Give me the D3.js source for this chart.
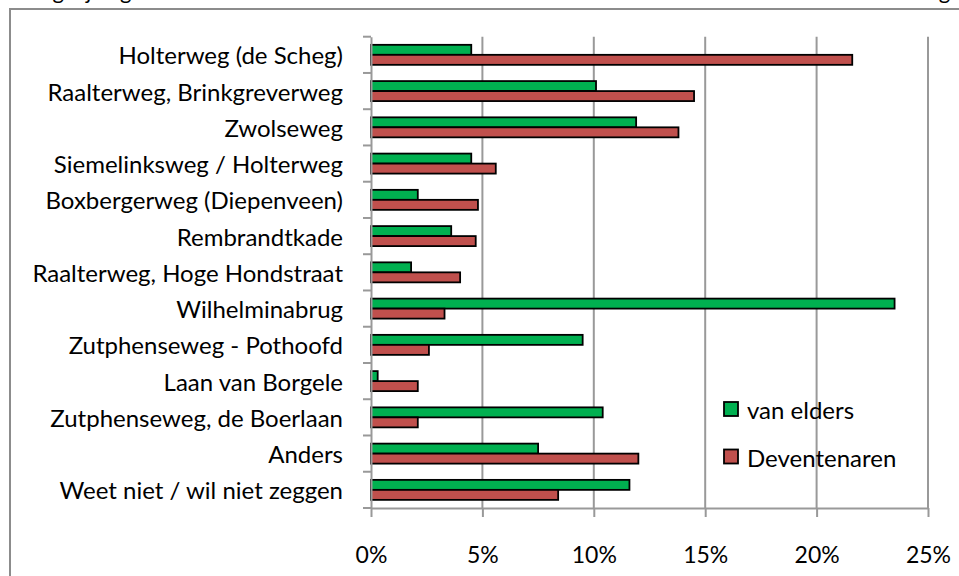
<!DOCTYPE html>
<html>
<head>
<meta charset="utf-8">
<script src="https://cdn.jsdelivr.net/npm/d3@7"></script>
<style>
  html, body { margin: 0; padding: 0; background: #fff; }
  svg { display: block; font-family: Lato, "Open Sans", sans-serif; }
</style>
</head>
<body>
<svg id="chart"></svg>
<script>
// Data (percentages).
const categories = [
  "Holterweg (de Scheg)",
  "Raalterweg, Brinkgreverweg",
  "Zwolseweg",
  "Siemelinksweg / Holterweg",
  "Boxbergerweg (Diepenveen)",
  "Rembrandtkade",
  "Raalterweg, Hoge Hondstraat",
  "Wilhelminabrug",
  "Zutphenseweg - Pothoofd",
  "Laan van  Borgele",
  "Zutphenseweg, de Boerlaan",
  "Anders",
  "Weet niet / wil niet zeggen"
];
const vanElders   = [4.5, 10.1, 11.9, 4.5, 2.1, 3.6, 1.8, 23.5, 9.5, 0.3, 10.4, 7.5, 11.6];
const deventenaren = [21.6, 14.5, 13.8, 5.6, 4.8, 4.7, 4.0, 3.3, 2.6, 2.1, 2.1, 12.0, 8.4];
const seriesNames = ["van elders", "Deventenaren"];
const seriesColors = ["#00b050", "#c0504d"];
const xTicks = [0, 5, 10, 15, 20, 25];
const titleText = "Vergelijking van de antwoorden van Deventenaren en van mensen van elders: waar moet de brug komen?";

const width = 959, height = 576;
const svg = d3.select("#chart").attr("width", width).attr("height", height);

// Plot area
const plotLeft = 371, plotRight = 928, plotTop = 36.7, plotBottom = 508;

const x = d3.scaleLinear().domain([0, 25]).range([plotLeft, plotRight]);
const y = d3.scaleBand().domain(categories).range([plotTop, plotBottom]);

// Title line above the chart box (only its lowest part is in view)
svg.append("text")
  .attr("x", 20)
  .attr("y", -1)
  .attr("font-size", 22)
  .attr("fill", "#000")
  .text(titleText);

// Chart border
svg.append("rect")
  .attr("x", 10).attr("y", 9)
  .attr("width", 960).attr("height", 580)
  .attr("fill", "#fff")
  .attr("stroke", "#8c8c8c")
  .attr("stroke-width", 2);

// Vertical gridlines
svg.append("g")
  .selectAll("line")
  .data(xTicks.slice(1))
  .join("line")
  .attr("x1", d => x(d)).attr("x2", d => x(d))
  .attr("y1", plotTop).attr("y2", plotBottom)
  .attr("stroke", "#999")
  .attr("stroke-width", 2);

// Bars
const barH = 10;
const rows = svg.append("g")
  .selectAll("g")
  .data(categories)
  .join("g")
  .attr("transform", d => `translate(0,${y(d) + y.bandwidth() / 2})`);

rows.append("rect")
  .attr("x", x(0))
  .attr("y", -barH)
  .attr("width", (d, i) => x(vanElders[i]) - x(0))
  .attr("height", barH)
  .attr("fill", seriesColors[0])
  .attr("stroke", "#000")
  .attr("stroke-width", 1.8);

rows.append("rect")
  .attr("x", x(0))
  .attr("y", 0)
  .attr("width", (d, i) => x(deventenaren[i]) - x(0))
  .attr("height", barH)
  .attr("fill", seriesColors[1])
  .attr("stroke", "#000")
  .attr("stroke-width", 1.8);

// Category axis (left)
const yAxis = d3.axisLeft(y).tickSize(0).tickPadding(28);
const yg = svg.append("g")
  .attr("transform", `translate(${plotLeft},0)`)
  .call(yAxis);
yg.select(".domain").attr("stroke", "#999").attr("stroke-width", 2);
yg.selectAll(".tick text")
  .attr("font-size", 24)
  .attr("font-family", "Lato, 'Open Sans', sans-serif")
  .attr("fill", "#000")
  .attr("dy", "0.4em");

// tick marks on band boundaries
const bounds = categories.map(c => y(c)).concat([plotBottom]);
svg.append("g")
  .selectAll("line")
  .data(bounds)
  .join("line")
  .attr("x1", plotLeft - 8).attr("x2", plotLeft)
  .attr("y1", d => d).attr("y2", d => d)
  .attr("stroke", "#999")
  .attr("stroke-width", 2);

// Value axis (bottom)
const xAxis = d3.axisBottom(x)
  .tickValues(xTicks)
  .tickFormat(d => d + "%")
  .tickSize(9)
  .tickSizeOuter(0)
  .tickPadding(30);
const xg = svg.append("g")
  .attr("transform", `translate(0,${plotBottom})`)
  .call(xAxis);
xg.select(".domain").attr("stroke", "#999").attr("stroke-width", 2);
xg.selectAll(".tick line").attr("stroke", "#999").attr("stroke-width", 2);
xg.selectAll(".tick text")
  .attr("font-size", 23)
  .attr("font-family", "Lato, 'Open Sans', sans-serif")
  .attr("fill", "#000");

// Legend
const legend = svg.append("g")
  .selectAll("g")
  .data(seriesNames)
  .join("g")
  .attr("transform", (d, i) => `translate(724,${402 + i * 47.5})`);
legend.append("rect")
  .attr("width", 14).attr("height", 14)
  .attr("fill", (d, i) => seriesColors[i])
  .attr("stroke", "#000")
  .attr("stroke-width", 1.8);
legend.append("text")
  .attr("x", 23)
  .attr("y", 17)
  .attr("font-size", 24)
  .attr("fill", "#000")
  .text(d => d);
</script>
</body>
</html>
